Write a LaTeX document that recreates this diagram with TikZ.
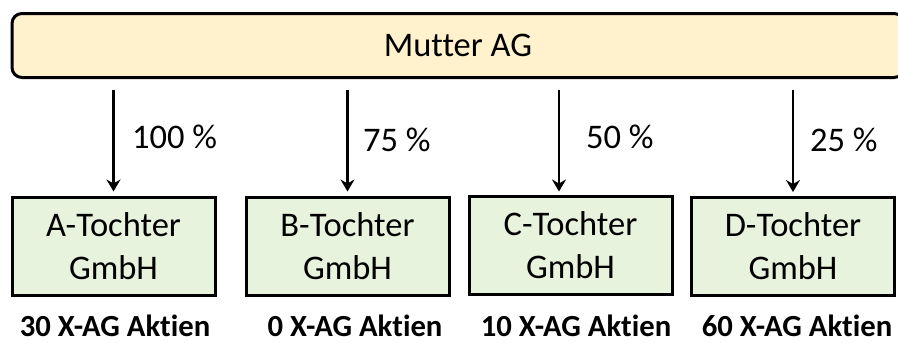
\documentclass[tikz,border=0pt]{standalone}
\usepackage{fontspec}
\setmainfont[Ligatures=NoCommon]{Carlito}
\usetikzlibrary{arrows.meta}
\definecolor{mutterfill}{HTML}{FFF2CC}
\definecolor{tochterfill}{HTML}{E8F3DD}
\tikzset{
  mutterbox/.style={draw=black, line width=3pt, fill=mutterfill, rounded corners=10pt,
    minimum width=892pt, minimum height=64pt, inner sep=0pt,
    font=\fontsize{34.5}{43}\selectfont},
  tochterbox/.style={draw=black, line width=3pt, fill=tochterfill,
    minimum width=203pt, minimum height=98pt, inner sep=0pt, align=center,
    font=\fontsize{34.5}{43}\selectfont},
  pct/.style={anchor=west, inner sep=0pt, font=\fontsize{34.5}{43}\selectfont},
  aktien/.style={inner sep=0pt, font=\fontsize{30.7}{36}\selectfont\bfseries},
  conn/.style={line width=2.8pt, -{Stealth[length=12pt,width=14pt,inset=4pt]}}
}
\begin{document}
\begin{tikzpicture}[x=1pt,y=-1pt]
\useasboundingbox (0,0) rectangle (898,343);
\clip (0,0) rectangle (898,343);
\fill[white] (0,0) rectangle (898,343);
\node[mutterbox] (m) at (458,45.5) {Mutter AG};
\node[tochterbox] (a) at (113.5,246) {A-Tochter\\GmbH};
\node[tochterbox] (b) at (347.5,246) {B-Tochter\\GmbH};
\node[tochterbox] (c) at (570.5,245) {C-Tochter\\GmbH};
\node[tochterbox] (d) at (793,246.5) {D-Tochter\\GmbH};
\draw[conn] ([yshift=-10.5pt]m.south -| a.north) -- ([yshift=4pt]a.north);
\draw[conn] ([yshift=-10.5pt]m.south -| b.north) -- ([yshift=4pt]b.north);
\draw[conn] ([yshift=-10.5pt,xshift=-11.5pt]m.south -| c.north) -- ([yshift=3pt,xshift=-11.5pt]c.north);
\draw[conn] ([yshift=-10.5pt]m.south -| d.north) -- ([yshift=4pt]d.north);
\node[pct] (pa) at (132,137) {100 \%};
\node[pct] (pb) at (363,140) {75 \%};
\node[pct] (pc) at (586,137) {50 \%};
\node[pct] (pd) at (810,140) {25 \%};
\node[aktien] (la) at (115,325.5) {30 X-AG Aktien};
\node[aktien] (lb) at (355,325.5) {0 X-AG Aktien};
\node[aktien] (lc) at (576,325.5) {10 X-AG Aktien};
\node[aktien] (ld) at (797,325.5) {60 X-AG Aktien};
\end{tikzpicture}
\end{document}
